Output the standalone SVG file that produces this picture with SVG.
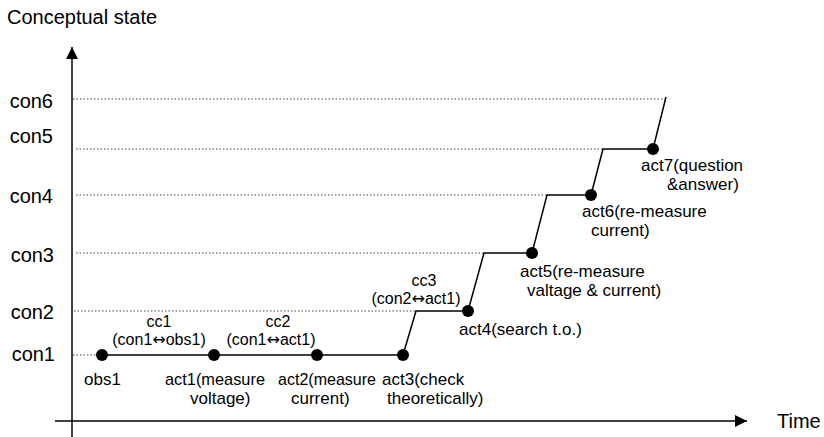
<svg xmlns="http://www.w3.org/2000/svg" width="824" height="437" viewBox="0 0 824 437">
<defs>
<style>
text{font-family:"Liberation Sans",Arial,sans-serif;fill:#000}
.ax{font-size:20px}
.lb{font-size:17px}
.cc{font-size:16px}
.arr{font-family:"DejaVu Sans",sans-serif}
.grid{stroke:#444;stroke-width:1;stroke-dasharray:1.5 2;fill:none}
.axis{stroke:#000;stroke-width:1.5;fill:none}
.step{stroke:#000;stroke-width:1.5;fill:none}
.dot{fill:#000}
</style>
<marker id="ah" viewBox="0 0 12 12" refX="12" refY="6" markerWidth="12" markerHeight="12" markerUnits="userSpaceOnUse" orient="auto">
<path d="M0,0 L12,6 L0,12 Z" fill="#000"/>
</marker>
</defs>
<rect width="824" height="437" fill="#fff"/>
<g id="axes">
<line class="axis" x1="72" y1="437" x2="72" y2="47" marker-end="url(#ah)"/>
<line class="axis" x1="55" y1="421" x2="747" y2="421" marker-end="url(#ah)"/>
<text class="ax" x="7" y="24">Conceptual state</text>
<text class="ax" x="777" y="428">Time</text>
</g>
<g id="levels">
<line class="grid" x1="73" y1="99" x2="665" y2="99"/>
<line class="grid" x1="76" y1="149" x2="603" y2="149"/>
<line class="grid" x1="76" y1="195" x2="547" y2="195"/>
<line class="grid" x1="76" y1="253" x2="484" y2="253"/>
<line class="grid" x1="74" y1="311" x2="416" y2="311"/>
<line class="grid" x1="73" y1="355" x2="102" y2="355"/>
<text class="ax" x="53" y="108" text-anchor="end">con6</text>
<text class="ax" x="53" y="143" text-anchor="end">con5</text>
<text class="ax" x="53" y="203" text-anchor="end">con4</text>
<text class="ax" x="54" y="262" text-anchor="end">con3</text>
<text class="ax" x="54" y="319" text-anchor="end">con2</text>
<text class="ax" x="55" y="361" text-anchor="end">con1</text>
</g>
<g id="connectors">
<polyline class="step" points="102,355 403,355 416,311 468,311 484,253 532,253 547,195 591,195 603,149 653,149 666,97"/>
</g>
<g id="obs1">
<circle class="dot" cx="102" cy="355" r="6"/>
<text class="lb" x="84" y="385">obs1</text>
</g>
<g id="act1">
<circle class="dot" cx="214" cy="355" r="6"/>
<text class="lb" x="165" y="385" textLength="100" lengthAdjust="spacingAndGlyphs">act1(measure</text>
<text class="lb" x="190" y="404">voltage)</text>
</g>
<g id="act2">
<circle class="dot" cx="317" cy="355" r="6"/>
<text class="lb" x="278" y="385" textLength="98" lengthAdjust="spacingAndGlyphs">act2(measure</text>
<text class="lb" x="291" y="404">current)</text>
</g>
<g id="act3">
<circle class="dot" cx="403" cy="355" r="6"/>
<text class="lb" x="382" y="385">act3(check</text>
<text class="lb" x="387" y="404">theoretically)</text>
</g>
<g id="act4">
<circle class="dot" cx="468" cy="311" r="6"/>
<text class="lb" x="459" y="335">act4(search t.o.)</text>
</g>
<g id="act5">
<circle class="dot" cx="532" cy="253" r="6"/>
<text class="lb" x="520" y="277">act5(re-measure</text>
<text class="lb" x="527" y="296">valtage &amp; current)</text>
</g>
<g id="act6">
<circle class="dot" cx="591" cy="195" r="6"/>
<text class="lb" x="582" y="217">act6(re-measure</text>
<text class="lb" x="591" y="236">current)</text>
</g>
<g id="act7">
<circle class="dot" cx="653" cy="149" r="6"/>
<text class="lb" x="641" y="171">act7(question</text>
<text class="lb" x="667" y="190">&amp;answer)</text>
</g>
<g id="cc1">
<text class="cc" x="159" y="327" text-anchor="middle">cc1</text>
<text class="cc" x="159" y="345" text-anchor="middle">(con1<tspan class="arr">↔</tspan>obs1)</text>
</g>
<g id="cc2">
<text class="cc" x="278" y="327" text-anchor="middle">cc2</text>
<text class="cc" x="271" y="345" text-anchor="middle">(con1<tspan class="arr">↔</tspan>act1)</text>
</g>
<g id="cc3">
<text class="cc" x="424" y="286" text-anchor="middle">cc3</text>
<text class="cc" x="416" y="304" text-anchor="middle">(con2<tspan class="arr">↔</tspan>act1)</text>
</g>
</svg>
